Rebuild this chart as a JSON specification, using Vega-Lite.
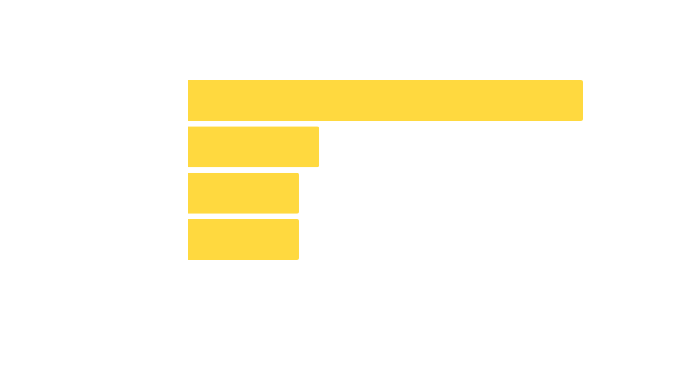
{
  "$schema": "https://vega.github.io/schema/vega-lite/v6.json",
  "autosize": "none",
  "width": 395,
  "height": 180,
  "padding": {"left": 188, "top": 80, "right": 110, "bottom": 105},
  "background": "white",
  "config": {"view": {"stroke": null}},
  "data": {"values": [
    {"category": "A", "value": 100},
    {"category": "B", "value": 33.2},
    {"category": "C", "value": 28.1},
    {"category": "D", "value": 28.1}
  ]},
  "mark": {"type": "bar", "color": "#FFD93F", "cornerRadiusEnd": 2},
  "encoding": {
    "y": {"field": "category", "type": "nominal", "sort": null, "axis": null,
          "scale": {"paddingInner": 0.115, "paddingOuter": 0}},
    "x": {"field": "value", "type": "quantitative", "axis": null,
          "scale": {"domain": [0, 100], "nice": false}}
  }
}
